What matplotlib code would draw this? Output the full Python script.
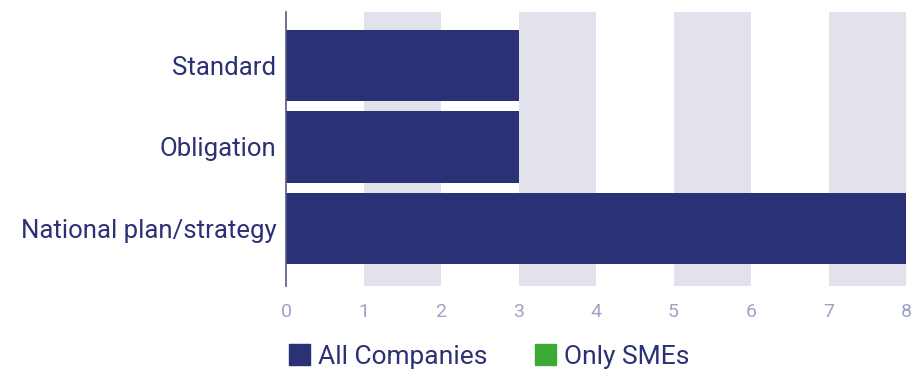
import matplotlib
matplotlib.use("Agg")
import matplotlib.pyplot as plt
from matplotlib.patches import Patch

categories = ["National plan/strategy", "Obligation", "Standard"]
all_companies = [8, 3, 3]
x_ticks = [0, 1, 2, 3, 4, 5, 6, 7, 8]
legend_labels = ["All Companies", "Only SMEs"]

NAVY = "#2b3175"
GREEN = "#3aaa35"
BAND = "#e1e2ec"
TICK = "#9ea3c6"

plt.rcParams["font.family"] = ["Roboto", "DejaVu Sans"]

fig = plt.figure(figsize=(9.11, 3.72), dpi=100)
ax = fig.add_axes([286 / 911, 1 - 286 / 372, 620 / 911, 274 / 372])

# alternating shaded bands
for start in range(1, 8, 2):
    ax.axvspan(start, start + 1, color=BAND, lw=0, zorder=0)

ax.barh(range(len(categories)), all_companies, height=0.87, color=NAVY, zorder=2)

ax.set_xlim(0, 8)
ax.set_ylim(-0.70, 2.65)
ax.set_xticks(x_ticks)
ax.set_yticks(range(len(categories)))
ax.set_yticklabels(categories)

for side in ["top", "right", "bottom"]:
    ax.spines[side].set_visible(False)
ax.spines["left"].set_color("#555a80")
ax.spines["left"].set_linewidth(1.2)

ax.tick_params(axis="x", length=0, pad=12, labelsize=14, labelcolor=TICK)
ax.tick_params(axis="y", length=0, pad=7, labelsize=18.5, labelcolor=NAVY)

handles = [Patch(color=NAVY), Patch(color=GREEN)]
fig.legend(handles, legend_labels, loc="lower left", bbox_to_anchor=(265 / 911, -0.055),
           ncol=2, frameon=False, fontsize=19, labelcolor=NAVY,
           handlelength=0.8, handleheight=0.8, handletextpad=0.3, columnspacing=1.8)

fig.savefig("out.png", dpi=100)
